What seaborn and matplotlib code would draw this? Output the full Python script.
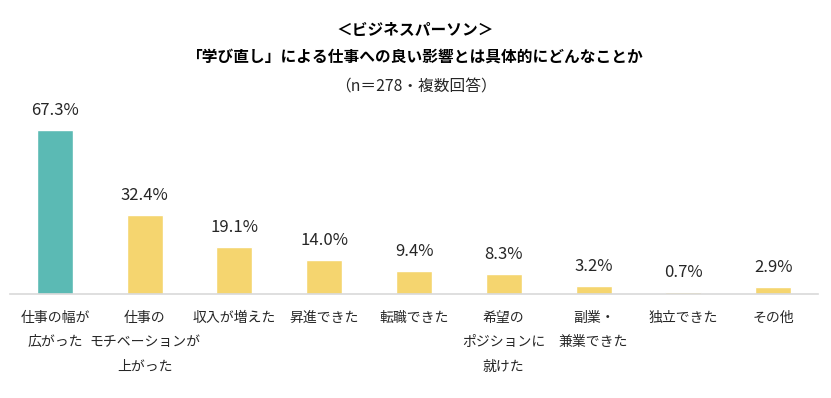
import seaborn as sns
import pandas as pd
import matplotlib.pyplot as plt

# data
categories = [
    "仕事の幅が\n広がった",
    "仕事の\nモチベーションが\n上がった",
    "収入が増えた",
    "昇進できた",
    "転職できた",
    "希望の\nポジションに\n就けた",
    "副業・\n兼業できた",
    "独立できた",
    "その他",
]
values = [67.3, 32.4, 19.1, 14.0, 9.4, 8.3, 3.2, 0.7, 2.9]
highlight = [True, False, False, False, False, False, False, False, False]

teal = "#5BBAB4"
yellow = "#F5D56F"

sns.set_theme(style="white")
plt.rcParams["font.family"] = ["Noto Sans CJK JP", "DejaVu Sans"]

df = pd.DataFrame({"category": categories, "value": values,
                   "group": ["top" if h else "other" for h in highlight]})

fig = plt.figure(figsize=(8.31, 3.98), dpi=100)
ax = fig.add_axes([10 / 831, 104 / 398, 808 / 831, 194 / 398])

sns.barplot(data=df, x="category", y="value", hue="group",
            palette={"top": teal, "other": yellow}, width=0.4,
            saturation=1, dodge=False, legend=False, ax=ax)

for i, v in enumerate(values):
    ax.text(i, v + 4.6, f"{v:.1f}%", ha="center", va="bottom",
            fontsize=12, color="#262626")

ax.set_ylim(0, 79.6)
ax.set_xlim(-0.5, len(categories) - 0.5)
ax.set_yticks([])
ax.set_xlabel("")
ax.set_ylabel("")
for side in ["top", "right", "left"]:
    ax.spines[side].set_visible(False)
ax.spines["bottom"].set_color("#D9D9D9")
ax.spines["bottom"].set_linewidth(1.2)
ax.tick_params(axis="x", length=0, pad=12)
for lbl in ax.get_xticklabels():
    lbl.set_fontsize(10)
    lbl.set_linespacing(1.95)
    lbl.set_color("#262626")
    lbl.set_verticalalignment("top")

fig.text(0.5, 1 - 30 / 398, "＜ビジネスパーソン＞", ha="center", va="center",
         fontsize=11.3, fontweight="bold", color="#000000")
fig.text(0.5, 1 - 57 / 398, "「学び直し」による仕事への良い影響とは具体的にどんなことか",
         ha="center", va="center", fontsize=11.3, fontweight="bold", color="#000000")
fig.text(0.5, 1 - 87 / 398, "（n＝278・複数回答）", ha="center", va="center",
         fontsize=11.3, color="#262626")

fig.savefig("out.png", dpi=100, facecolor="white")
